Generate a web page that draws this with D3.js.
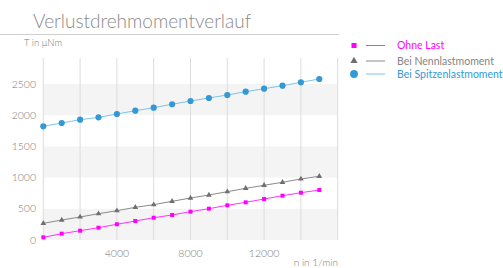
<!DOCTYPE html>
<html>
<head>
<meta charset="utf-8">
<script src="https://cdn.jsdelivr.net/npm/d3@7"></script>
<style>
  body { margin: 0; background: #fff; }
  svg { display: block; font-family: Lato, "Open Sans", sans-serif; }
</style>
</head>
<body>
<div id="chart"></div>
<script>
// speed in 1/min
var speeds = [0, 1000, 2000, 3000, 4000, 5000, 6000, 7000, 8000, 9000, 10000, 11000, 12000, 13000, 14000, 15000];
// loss torque in µNm
var ohneLast = [43, 101, 149, 197, 252, 304, 357, 401, 454, 502, 556, 604, 657, 710, 758, 801];
var nennlast = [267, 320, 369, 421, 470, 524, 566, 620, 673, 721, 774, 828, 877, 925, 978, 1021];
var spitzenlast = [1822, 1875, 1928, 1966, 2019, 2072, 2120, 2175, 2228, 2276, 2324, 2377, 2425, 2473, 2527, 2580];
var seriesNames = ["Ohne Last", "Bei Nennlastmoment", "Bei Spitzenlastmoment"];
var yTicks = [0, 500, 1000, 1500, 2000, 2500];
var xGrid = [0, 2000, 4000, 6000, 8000, 10000, 12000, 14000, 16000];
var xLabels = [4000, 8000, 12000];

var width = 503, height = 268;
var svg = d3.select("#chart").append("svg")
  .attr("width", width).attr("height", height);

var x = d3.scaleLinear().domain([0, 16000]).range([43.3, 337.7]);
var y = d3.scaleLinear().domain([0, 2500]).range([240, 84]);
var plotTop = 58;

// title
svg.append("text")
  .attr("x", 33).attr("y", 28)
  .attr("font-size", 19).attr("font-weight", 300)
  .attr("fill", "#8a8a8a")
  .text("Verlustdrehmomentverlauf");
svg.append("line")
  .attr("x1", 0).attr("x2", 339).attr("y1", 34.5).attr("y2", 34.5)
  .attr("stroke", "#cfcfcf").attr("stroke-width", 1.2);

svg.append("text")
  .attr("x", 24).attr("y", 46)
  .attr("font-size", 9.5).attr("font-weight", 300)
  .attr("fill", "#777")
  .text("T in μNm");

// alternating bands
var bands = [[0, 500], [1000, 1500], [2000, 2500]];
svg.append("g").selectAll("rect").data(bands).join("rect")
  .attr("x", x(0)).attr("width", x(16000) - x(0))
  .attr("y", d => y(d[1])).attr("height", d => y(d[0]) - y(d[1]))
  .attr("fill", "#f4f4f4");

// vertical grid
svg.append("g").selectAll("line").data(xGrid).join("line")
  .attr("x1", d => x(d)).attr("x2", d => x(d))
  .attr("y1", plotTop).attr("y2", y(0))
  .attr("stroke", "#dcdcdc").attr("stroke-width", 1);

// y labels
svg.append("g").selectAll("text").data(yTicks).join("text")
  .attr("x", 36).attr("y", d => y(d)).attr("dy", "0.35em")
  .attr("text-anchor", "end")
  .attr("font-size", 10.5).attr("font-weight", 300)
  .attr("fill", "#7a7a7a")
  .text(d => d);

// x labels
svg.append("g").selectAll("text").data(xLabels).join("text")
  .attr("x", d => x(d)).attr("y", 253).attr("dy", "0.35em")
  .attr("text-anchor", "middle")
  .attr("font-size", 10.5).attr("font-weight", 300)
  .attr("fill", "#7a7a7a")
  .text(d => d);

svg.append("text")
  .attr("x", 338).attr("y", 266)
  .attr("text-anchor", "end")
  .attr("font-size", 10).attr("font-weight", 300)
  .attr("fill", "#7a7a7a")
  .text("n in 1/min");

var series = [
  { name: seriesNames[0], values: ohneLast, line: "#ff33ff", mark: "#ff00ff", text: "#ff00ff", symbol: d3.symbolSquare, size: 16 },
  { name: seriesNames[1], values: nennlast, line: "#8a8a8a", mark: "#6f6f6f", text: "#858585", symbol: d3.symbolTriangle, size: 14 },
  { name: seriesNames[2], values: spitzenlast, line: "#7ec3e6", mark: "#3399d6", text: "#3399d6", symbol: d3.symbolCircle, size: 30 }
];

var line = d3.line().x((d, i) => x(speeds[i])).y(d => y(d));

series.slice().reverse().forEach(s => {
  var g = svg.append("g");
  g.append("path").attr("d", line(s.values))
    .attr("fill", "none").attr("stroke", s.line).attr("stroke-width", 1);
  g.selectAll("path.pt").data(s.values).join("path")
    .attr("class", "pt")
    .attr("transform", (d, i) => `translate(${x(speeds[i])},${y(d)})`)
    .attr("d", d3.symbol(s.symbol, s.size))
    .attr("fill", s.mark);
});

// legend
var legendY = [45.5, 61, 74];
var legend = svg.append("g").selectAll("g").data(series).join("g")
  .attr("transform", (d, i) => `translate(0,${legendY[i]})`);
legend.append("path")
  .attr("transform", "translate(354,0)")
  .attr("d", d => d3.symbol(d.symbol, d.size * 1.6)())
  .attr("fill", d => d.mark);
legend.append("line")
  .attr("x1", 366).attr("x2", 385).attr("y1", 0).attr("y2", 0)
  .attr("stroke", d => d.line).attr("stroke-width", 1);
legend.append("text")
  .attr("x", 397).attr("y", 0).attr("dy", "0.35em")
  .attr("font-size", 10.5).attr("font-weight", 400)
  .attr("fill", d => d.text)
  .text(d => d.name);
</script>
</body>
</html>
